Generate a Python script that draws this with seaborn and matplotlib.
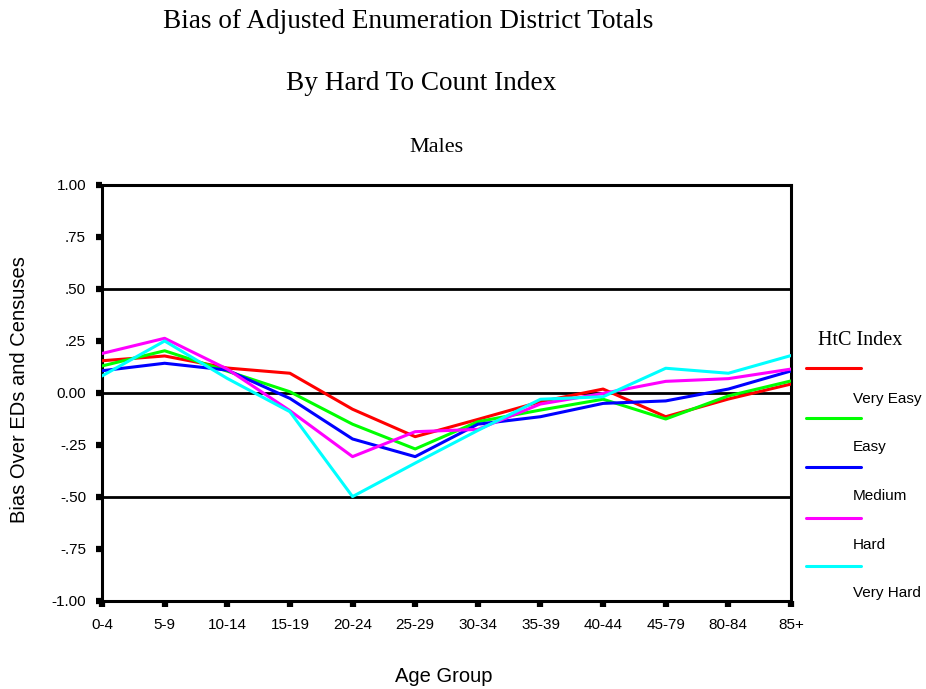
import matplotlib
matplotlib.use("Agg")
import matplotlib.pyplot as plt
from matplotlib.lines import Line2D
import seaborn as sns
import pandas as pd

ages = ['0-4', '5-9', '10-14', '15-19', '20-24', '25-29', '30-34',
        '35-39', '40-44', '45-79', '80-84', '85+']
very_easy = [0.155, 0.178, 0.120, 0.095, -0.078, -0.210, -0.127, -0.042, 0.019, -0.114, -0.029, 0.043]
easy      = [0.130, 0.203, 0.105, 0.006, -0.150, -0.269, -0.138, -0.082, -0.030, -0.125, -0.014, 0.058]
medium    = [0.107, 0.143, 0.110, -0.026, -0.221, -0.306, -0.150, -0.114, -0.050, -0.038, 0.019, 0.106]
hard      = [0.190, 0.263, 0.115, -0.085, -0.306, -0.186, -0.175, -0.053, -0.002, 0.056, 0.069, 0.115]
very_hard = [0.082, 0.250, 0.070, -0.090, -0.498, -0.337, -0.180, -0.030, -0.018, 0.119, 0.095, 0.180]
groups = ['Very Easy', 'Easy', 'Medium', 'Hard', 'Very Hard']
colors = ['#FF0000', '#00FF00', '#0000FF', '#FF00FF', '#00FFFF']
ytick_vals = [1.0, 0.75, 0.5, 0.25, 0.0, -0.25, -0.5, -0.75, -1.0]
ytick_labels = ['1.00', '.75', '.50', '.25', '0.00', '-.25', '-.50', '-.75', '-1.00']

series = [very_easy, easy, medium, hard, very_hard]
rows = []
for g, vals in zip(groups, series):
    for i, (a, v) in enumerate(zip(ages, vals)):
        rows.append({'pos': i, 'Age Group': a, 'HtC': g, 'Bias': v})
df = pd.DataFrame(rows)

sns.set_style('white')
SANS = ['Liberation Sans', 'DejaVu Sans']
SERIF = ['Liberation Serif', 'DejaVu Serif']
plt.rcParams['font.family'] = SANS
for k in ['text.color', 'axes.labelcolor', 'xtick.color', 'ytick.color']:
    plt.rcParams[k] = 'black'

W, H = 926, 689
fig = plt.figure(figsize=(W / 100, H / 100), dpi=100)
ax = fig.add_axes([102 / W, 1 - 601 / H, (791 - 102) / W, (601 - 185) / H])

for y in [0.5, 0.0, -0.5]:
    ax.axhline(y, color='black', lw=2.0, zorder=1)

sns.lineplot(data=df, x='pos', y='Bias', hue='HtC', hue_order=groups,
             palette=colors, sort=False, lw=2.2, ax=ax, legend=False, zorder=3)

ax.set_xlim(0, len(ages) - 1)
ax.set_ylim(-1.0, 1.0)
ax.set_xticks(range(len(ages)))
ax.set_xticklabels(ages)
ax.set_yticks(ytick_vals)
ax.set_yticklabels(ytick_labels)
ax.set_xlabel('')
ax.set_ylabel('')
for s in ax.spines.values():
    s.set_visible(True)
    s.set_color('black')
    s.set_linewidth(2.2)
ax.tick_params(axis='both', direction='out', length=4.5, width=4.5, color='black',
               labelcolor='black', labelsize=11, pad=7, left=True, bottom=True)
ax.tick_params(axis='x', pad=8)

fig.text(408 / W, 1 - 22 / H, 'Bias of Adjusted Enumeration District Totals',
         ha='center', va='center', fontsize=19.6, family=SERIF, color='black')
fig.text(421 / W, 1 - 84 / H, 'By Hard To Count Index',
         ha='center', va='center', fontsize=19.6, family=SERIF, color='black')
fig.text(436 / W, 1 - 147 / H, 'Males',
         ha='center', va='center', fontsize=16, family=SERIF, color='black')
fig.text(444 / W, 1 - 677 / H, 'Age Group', ha='center', va='center',
         fontsize=14.5, color='black')
fig.text(20 / W, 1 - 390 / H, 'Bias Over EDs and Censuses', ha='center', va='center',
         rotation=90, fontsize=14.5, color='black')

# legend (custom layout like the original)
fig.text(860 / W, 1 - 340 / H, 'HtC Index', ha='center', va='center',
         fontsize=14.5, family=SERIF, color='black')
line_ys = [368, 418, 467, 518, 566]
label_ys = [399, 447, 496, 545, 593]
for g, c, ly, ty in zip(groups, colors, line_ys, label_ys):
    fig.add_artist(Line2D([806 / W, 861 / W], [1 - ly / H, 1 - ly / H],
                          color=c, lw=2.2, transform=fig.transFigure))
    fig.text(853 / W, 1 - ty / H, g, ha='left', va='center', fontsize=11, color='black')

fig.savefig('out.png', dpi=100, facecolor='white')
